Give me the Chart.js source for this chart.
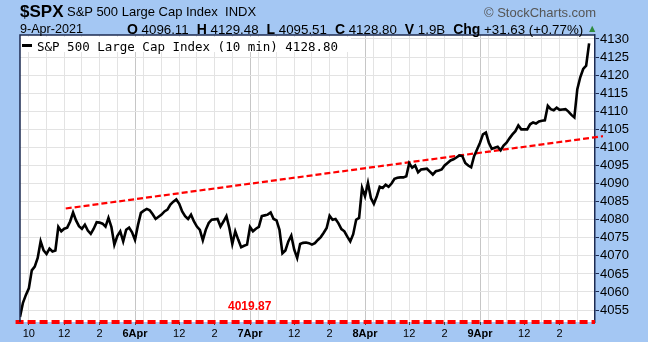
<!DOCTYPE html>
<html>
<head>
<meta charset="utf-8">
<script src="https://cdn.jsdelivr.net/npm/chart.js"></script>
<style>
    body { margin: 0; width: 648px; height: 342px; overflow: hidden; position: relative; background: #a4c7f3; font-family: "Liberation Sans", Arial, sans-serif; }
    #c { position: absolute; left: 0; top: 0; }
    .t { position: absolute; white-space: nowrap; color: #000; line-height: 1; }
    .t b { font-size: 14px; }
</style>
</head>
<body>
<canvas id="c" width="648" height="342"></canvas>

<div class="t" style="left:20px; top:3px; font-size:17px; font-weight:bold;">$SPX</div>
<div class="t" style="left:67px; top:4.5px; font-size:13px;">S&amp;P 500 Large Cap Index&nbsp; INDX</div>
<div class="t" style="left:484px; top:5.5px; font-size:13px; color:#555;">© StockCharts.com</div>
<div class="t" style="left:20px; top:22.5px; font-size:12.6px;">9-Apr-2021</div>
<div class="t" id="stats" style="left:127px; top:22px; font-size:13.3px;"></div>
<div class="t" style="left:587px; top:23px; font-size:10.5px; color:#2e8b3e;">▲</div>

<div style="position:absolute; left:21px; top:37px; width:330px; height:15px; background:#fff;"></div>
<div style="position:absolute; left:22px; top:44px; width:10px; height:2.5px; background:#000;"></div>
<div class="t" id="legend" style="left:37px; top:40.5px; font-size:12.5px; font-family:'DejaVu Sans Mono', monospace;"></div>
<div class="t" id="lowlbl" style="left:228px; top:300px; font-size:12px; font-weight:bold; color:#ff0000;"></div>

<script>
// ================= DATA =================
const days = ['5Apr', '6Apr', '7Apr', '8Apr', '9Apr'];
const barsPerDay = 39;                       // 10 min bars, 9:30 - 16:00
const hourOffsets = [3, 9, 15, 21, 27, 33];  // 10:00 .. 15:00
const hourLabels = ['10', '', '12', '', '2', ''];

const apr5 = [4053.1, 4057, 4059.2, 4061, 4066, 4067, 4069.4, 4074, 4071.5, 4070.5,
    4072, 4071.2, 4071.5, 4078, 4076.8, 4077.5, 4077.8, 4079.5, 4082, 4079.8,
    4078.2, 4077.5, 4078.6, 4077, 4076.1, 4077.5, 4079.3, 4079.2, 4078.9, 4078.1,
    4080.5, 4078, 4073.1, 4075.5, 4076.8, 4074, 4077.2, 4077.8, 4076.5];
const apr6 = [4074.4, 4078.5, 4081.9, 4082.5, 4083, 4082.6, 4081.5, 4080.2, 4080.8, 4081.4,
    4082.3, 4082.8, 4084.2, 4085, 4085.6, 4084.4, 4082.3, 4081, 4080.2, 4081.4,
    4079.5, 4078.1, 4077.2, 4074.3, 4077.2, 4079.1, 4080, 4080.1, 4080.2, 4078.1,
    4079.5, 4081, 4077.7, 4073.3, 4076.8, 4074.5, 4072.4, 4072.8, 4073.1];
const apr7 = [4078, 4076.8, 4077.5, 4078, 4081, 4081.2, 4081.4, 4082, 4080.2, 4079.8,
    4077.2, 4070.7, 4071.5, 4074, 4075.6, 4071.7, 4069.4, 4073.3, 4073.6, 4073.7,
    4073.5, 4073.1, 4073.5, 4074.4, 4075.2, 4076.4, 4077.7, 4081.1, 4080, 4080.2,
    4079, 4077.4, 4076.8, 4075.3, 4074, 4076, 4080, 4080.5, 4088.8];
const apr8 = [4086.5, 4090.2, 4086, 4084.4, 4086.5, 4089.1, 4088.8, 4089.7, 4089.1, 4090,
    4091.3, 4091.6, 4091.7, 4091.7, 4092, 4095.6, 4094.4, 4095, 4093.1, 4093.9,
    4094, 4094.1, 4093.3, 4092.5, 4093.4, 4093.6, 4093.9, 4095, 4095.7, 4096.4,
    4096.7, 4097.2, 4097.8, 4097.6, 4095.7, 4095, 4094.5, 4097.6, 4099.4];
const apr9 = [4101.3, 4103.6, 4104.1, 4101.3, 4099.6, 4099.9, 4100.2, 4099.2, 4100.5, 4101.3,
    4102.5, 4103.6, 4104.5, 4106.1, 4105, 4105, 4105, 4106.4, 4106.9, 4106.6,
    4107.2, 4107.4, 4107.5, 4111.5, 4110.6, 4110.3, 4111, 4110.4, 4110.5, 4110.6,
    4109.9, 4109, 4108.3, 4116.1, 4119.4, 4121.7, 4122.6, 4128.8];

const trendX = [15.5, 197.7];
const trendY = [4083.1, 4103.1];
const lowValue = 4019.87;

const yMin = 4051.7;
const yMax = 4131.1;
const xMax = 195;

const stats = [['O', '4096.11'], ['H', '4129.48'], ['L', '4095.51'], ['C', '4128.80'],
    ['V', '1.9B'], ['Chg', '+31.63 (+0.77%)']];

// ================= BUILD =================
const closes = apr5.concat(apr6, apr7, apr8, apr9);
const linePts = closes.map((v, i) => ({ x: i, y: v }));

const xTicks = [];
const xTickLabel = {};
const dayStarts = [];
days.forEach((d, di) => {
    const base = di * barsPerDay;
    if (di > 0) { xTicks.push(base); dayStarts.push(base); xTickLabel[base] = d; }
    hourOffsets.forEach((o, k) => {
        xTicks.push(base + o);
        if (hourLabels[k] && (k !== 0 || di === 0)) xTickLabel[base + o] = hourLabels[k];
    });
});

document.getElementById('stats').innerHTML = stats.map((s, i) =>
    `<b style="margin-left:${i ? 8 : 0}px">${s[0]}</b> ${s[1]}`).join('');
document.getElementById('legend').textContent =
    `S&P 500 Large Cap Index (10 min) ${closes[closes.length - 1].toFixed(2)}`;
document.getElementById('lowlbl').textContent = lowValue.toFixed(2);

const NAVY = '#1d2b52';

const framePlugin = {
    id: 'frame',
    beforeDraw(chart) {
        const { ctx, chartArea: a } = chart;
        ctx.save();
        ctx.fillStyle = '#fff';
        ctx.fillRect(a.left, a.top, a.right - a.left, a.bottom - a.top);
        ctx.restore();
    },
    afterDraw(chart) {
        const { ctx, chartArea: a } = chart;
        ctx.save();
        ctx.strokeStyle = NAVY;
        ctx.lineWidth = 1.5;
        ctx.beginPath();
        ctx.moveTo(a.left, a.bottom);
        ctx.lineTo(a.left, a.top);
        ctx.lineTo(a.right, a.top);
        ctx.stroke();
        ctx.restore();
    }
};

new Chart(document.getElementById('c'), {
    type: 'line',
    data: {
        datasets: [
            { data: linePts, borderColor: '#000', borderWidth: 2.6, pointRadius: 0, tension: 0 },
            { data: trendX.map((x, i) => ({ x, y: trendY[i] })), borderColor: '#ff0000', borderWidth: 2.2,
              borderDash: [6, 3], pointRadius: 0, clip: false },
            { data: [{ x: -1.5, y: yMin }, { x: xMax, y: yMin }], borderColor: '#ff0000', borderWidth: 4,
              borderDash: [8, 4], pointRadius: 0, clip: false }
        ]
    },
    options: {
        responsive: false,
        animation: false,
        layout: { padding: { left: 20, top: 35, right: 0, bottom: 0 } },
        plugins: { legend: { display: false }, tooltip: { enabled: false } },
        scales: {
            x: {
                type: 'linear', min: 0, max: xMax,
                afterBuildTicks: ax => { ax.ticks = xTicks.map(v => ({ value: v })); },
                afterFit: ax => { ax.height = 20; },
                ticks: {
                    autoSkip: false, maxRotation: 0, padding: 2, color: '#000',
                    font: c => ({ family: 'Liberation Sans', size: 11,
                        weight: (c.tick && dayStarts.includes(c.tick.value)) ? 'bold' : 'normal' }),
                    callback: v => xTickLabel[v] || ''
                },
                grid: {
                    color: c => (c.tick && dayStarts.includes(c.tick.value)) ? '#c6c6c6' : '#e3e3e3',
                    tickColor: c => (c.tick && xTickLabel[c.tick.value]) ? '#444' : 'rgba(0,0,0,0)',
                    tickLength: 3
                },
                border: { display: false }
            },
            y: {
                position: 'right', min: yMin, max: yMax,
                afterFit: ax => { ax.width = 53; },
                ticks: { stepSize: 5, includeBounds: false, color: '#000', padding: 1,
                    font: { family: 'Liberation Sans', size: 13 },
                    callback: v => String(v) },
                grid: { color: '#e3e3e3', tickColor: NAVY, tickLength: 4 },
                border: { display: true, color: NAVY, width: 1.5 }
            }
        }
    },
    plugins: [framePlugin]
});
</script>
</body>
</html>
